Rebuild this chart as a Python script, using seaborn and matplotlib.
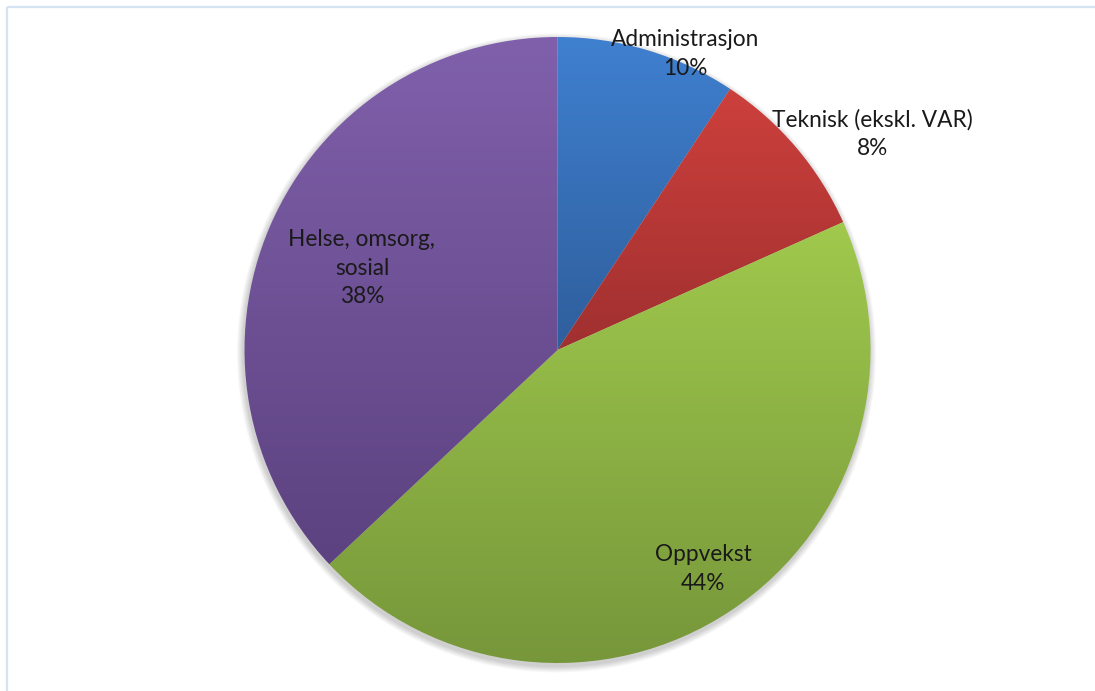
import numpy as np
import matplotlib.pyplot as plt
import seaborn as sns
from matplotlib.patches import Circle

# slice sizes as drawn, and the percentages printed on the labels
categories = ["Administrasjon", "Teknisk (ekskl. VAR)", "Oppvekst", "Helse, omsorg,\nsosial"]
shares = [9.3, 9.0, 44.7, 37.0]
pct_labels = ["10%", "8%", "44%", "38%"]
top_colors = ["#3f80d0", "#cd403c", "#a0c94d", "#8060ab"]
bottom_colors = ["#2f5e9c", "#a03030", "#76963a", "#5c4280"]

sns.set_style("white")
plt.rcParams["font.family"] = ["Lato", "DejaVu Sans"]

W, H = 1095, 691
fig = plt.figure(figsize=(W / 100, H / 100), dpi=100)
ax = fig.add_axes([0, 0, 1, 1])

cx, cy, r = 557.5, H - 350, 313

# soft shadow under the pie
for i in range(8):
    ax.add_patch(Circle((cx - 1, cy - 3), r + 1 + i * 0.8, color="black",
                        alpha=0.025, lw=0, zorder=0))

wedges, _ = ax.pie(shares, startangle=90, counterclock=False,
                   center=(cx, cy), radius=r,
                   wedgeprops=dict(linewidth=0))

# vertical gradient per slice, clipped to the wedge
grad = np.linspace(0, 1, 256).reshape(-1, 1)
for w, c0, c1 in zip(wedges, top_colors, bottom_colors):
    w.set_facecolor("none")
    v = w.get_path().vertices
    x0, x1 = v[:, 0].min(), v[:, 0].max()
    y0, y1 = v[:, 1].min(), v[:, 1].max()
    cmap = sns.blend_palette([c0, c1], as_cmap=True)
    im = ax.imshow(grad, cmap=cmap, extent=(x0, x1, y0, y1),
                   origin="upper", aspect="auto", zorder=1)
    im.set_clip_path(w)

# data labels
label_pos = [(685, 54), (872, 134), (703, 569), (362, 268)]
for name, pct, (lx, ly) in zip(categories, pct_labels, label_pos):
    ax.text(lx, H - ly, f"{name}\n{pct}", ha="center", va="center",
            fontsize=16.3, color="#1a1a1a", linespacing=1.42, zorder=3)

# light frame of the chart area (top and left edges visible)
ax.plot([7, 7], [0, H - 7], color="#d5e3f3", lw=1.6, zorder=2, solid_capstyle="butt")
ax.plot([7, W], [H - 7, H - 7], color="#d5e3f3", lw=1.6, zorder=2, solid_capstyle="butt")

ax.set_xlim(0, W)
ax.set_ylim(0, H)
ax.set_aspect("auto")
ax.axis("off")

fig.savefig("out.png", dpi=100, facecolor="white")
